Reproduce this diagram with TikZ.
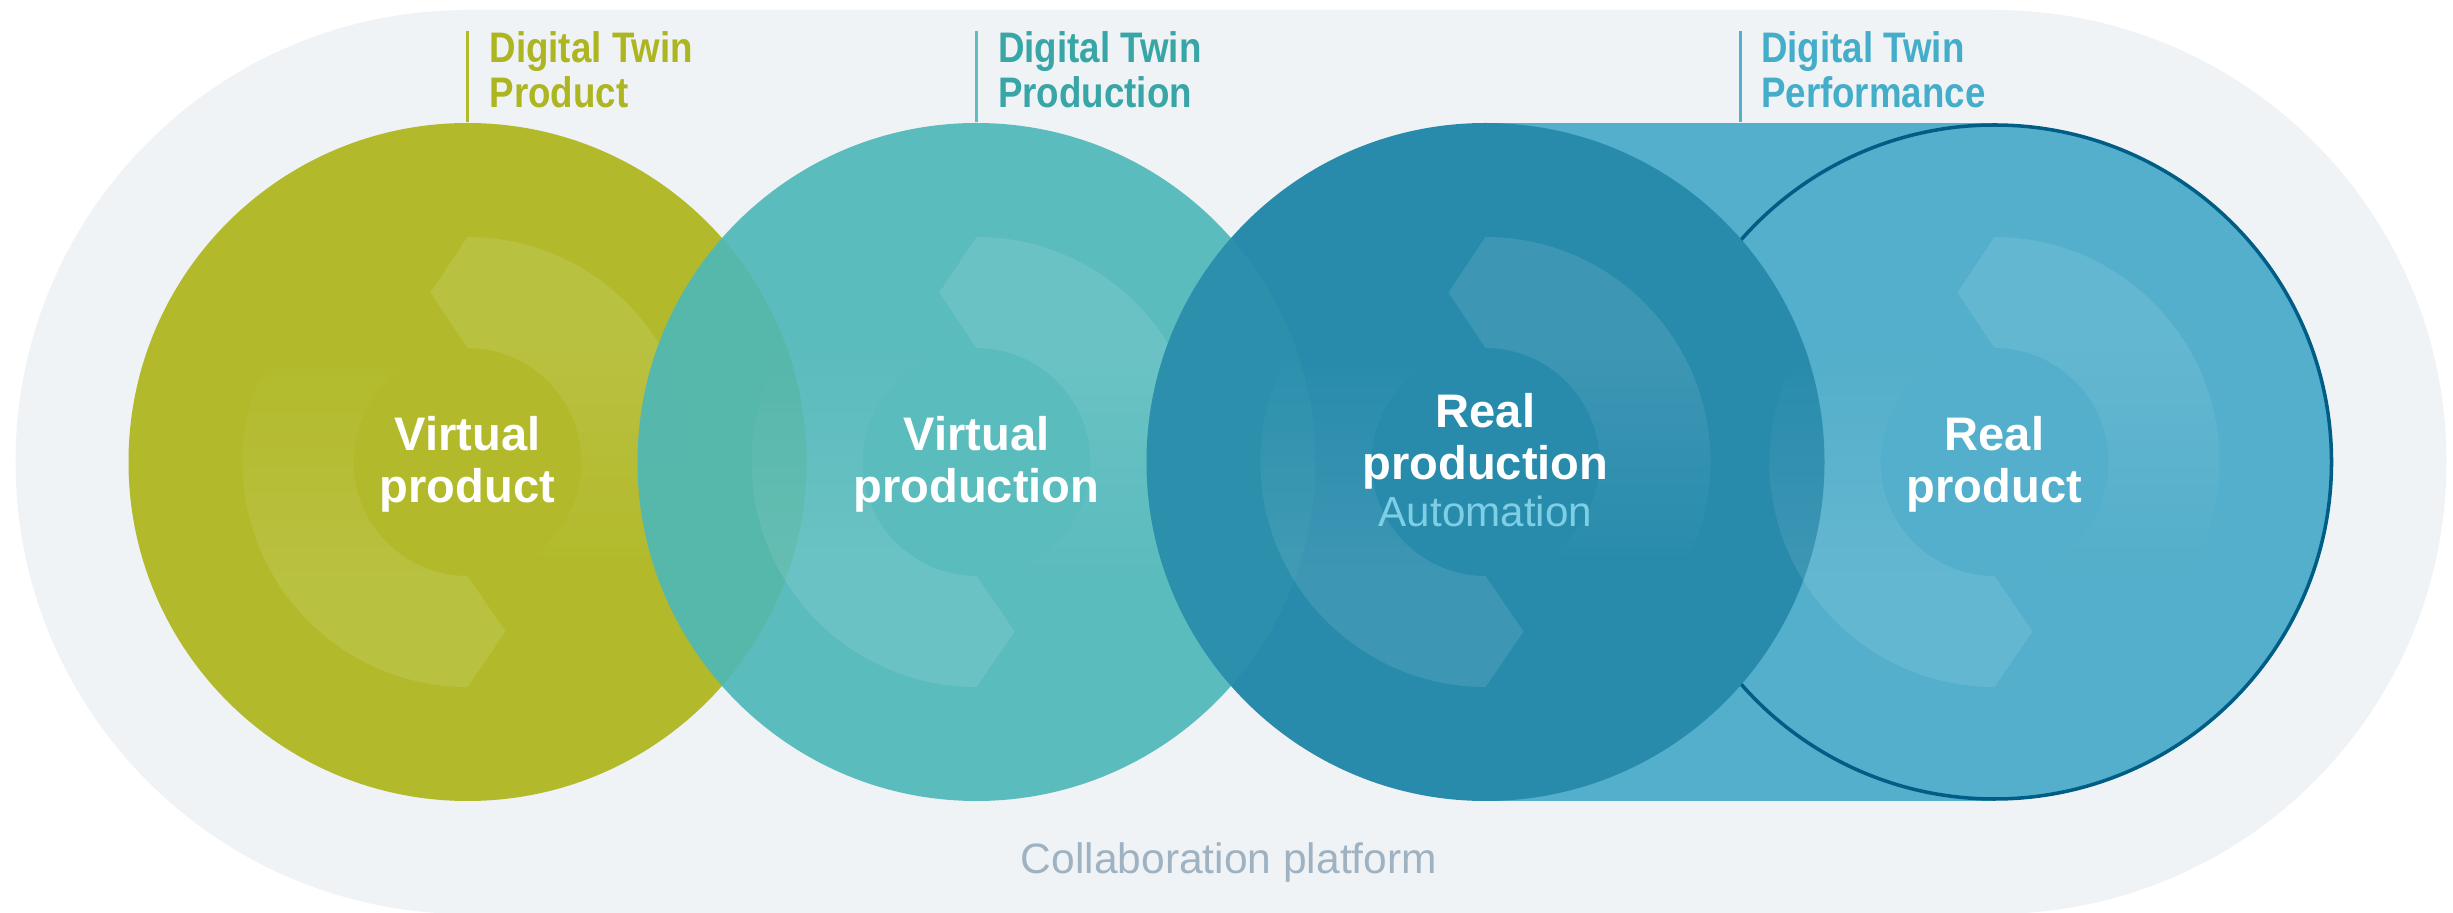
\documentclass[tikz,border=0pt]{standalone}
\usepackage{fontspec}
\setmainfont{Liberation Sans}
\usetikzlibrary{fadings}

\definecolor{platformbg}{HTML}{EFF3F6}
\definecolor{platformtx}{HTML}{9FB2C2}
\definecolor{dtgreen}{HTML}{B2BA2B}
\definecolor{dtgreentx}{HTML}{ADB520}
\definecolor{dtteal}{HTML}{4CB7B9}
\definecolor{dttealtx}{HTML}{38A5A6}
\definecolor{dtdark}{HTML}{288BAC}
\definecolor{dtblue}{HTML}{53AFCB}
\definecolor{dtbluetx}{HTML}{44ADC9}
\definecolor{dtoutline}{HTML}{005E86}
\definecolor{autotx}{HTML}{7ECFE5}

\begin{tikzfadingfrompicture}[name=fadedown]
  \fill[transparent!0] (-3,1.1) rectangle (3,3);
  \shade[top color=transparent!0,bottom color=transparent!100] (-3,-1.16) rectangle (3,1.16);
  \fill[transparent!100] (-3,-3) rectangle (3,-1.1);
\end{tikzfadingfrompicture}
\begin{tikzfadingfrompicture}[name=fadeup]
  \fill[transparent!100] (-3,1.1) rectangle (3,3);
  \shade[top color=transparent!100,bottom color=transparent!0] (-3,-1.16) rectangle (3,1.16);
  \fill[transparent!0] (-3,-3) rectangle (3,-1.1);
\end{tikzfadingfrompicture}

\begin{document}
\begin{tikzpicture}[
    every node/.style={inner sep=0pt},
    disc/.style={circle, minimum size=6.78cm},
    ringtint/.style={white, fill opacity=0.1, fit fading=false},
    lead/.style={line width=0.85pt},
    twintext/.style={anchor=base west, align=left, xscale=0.86, font=\bfseries\fontsize{12.15}{12.8}\selectfont},
    disctext/.style={anchor=base, align=center, text=white, font=\bfseries\fontsize{13.4}{15}\selectfont}]
    \useasboundingbox (0,0) rectangle (24.53,-9.13);
    % collaboration platform
    \fill[platformbg] (4.675,-0.1) -- (19.945,-0.1) arc[start angle=90, end angle=-90, radius=4.52] -- (4.675,-9.14) arc[start angle=270, end angle=90, radius=4.52] -- cycle;
    \node[anchor=base, text=platformtx, font=\fontsize{12.1}{14}\selectfont] (platform) at (12.29,-8.733) {Collaboration platform};

    % virtual product
    \node[disc, fill=dtgreen] (vproduct) at (4.675,-4.62) {};
    \fill[ringtint, path fading=fadedown, fading transform={shift={(4.675,-4.62)}}] (4.675,-4.62) ++(0,2.25) arc[start angle=90, end angle=-90, radius=2.25] -- ++(0,1.11) arc[start angle=-90, end angle=90, radius=1.14] -- ++(-0.37,0.555) -- cycle;
    \fill[ringtint, path fading=fadeup, fading transform={shift={(4.675,-4.62)}}] (4.675,-4.62) ++(0,-2.25) arc[start angle=270, end angle=90, radius=2.25] -- ++(0,-1.11) arc[start angle=90, end angle=270, radius=1.14] -- ++(0.38,-0.555) -- cycle;

    % virtual production
    \node[disc, fill=dtteal, fill opacity=0.9] (vproduction) at (9.765,-4.62) {};
    \fill[ringtint, path fading=fadedown, fading transform={shift={(9.765,-4.62)}}] (9.765,-4.62) ++(0,2.25) arc[start angle=90, end angle=-90, radius=2.25] -- ++(0,1.11) arc[start angle=-90, end angle=90, radius=1.14] -- ++(-0.37,0.555) -- cycle;
    \fill[ringtint, path fading=fadeup, fading transform={shift={(9.765,-4.62)}}] (9.765,-4.62) ++(0,-2.25) arc[start angle=270, end angle=90, radius=2.25] -- ++(0,-1.11) arc[start angle=90, end angle=270, radius=1.14] -- ++(0.38,-0.555) -- cycle;

    % performance band, real product, real production
    \node[fill=dtblue, minimum width=5.09cm, minimum height=6.78cm] (perfband) at (17.4,-4.62) {};
    \node[disc, minimum size=6.74cm, fill=dtblue, draw=dtoutline, line width=1pt] (rproduct) at (19.945,-4.62) {};
    \node[disc, fill=dtdark] (rproduction) at (14.855,-4.62) {};
    \begin{scope}
    \clip (rproduction.center) circle (3.39);
    \fill[dtteal, fill opacity=0.12] (vproduction.center) circle (3.39);
    \end{scope}
    \fill[ringtint, path fading=fadedown, fading transform={shift={(14.855,-4.62)}}] (14.855,-4.62) ++(0,2.25) arc[start angle=90, end angle=-90, radius=2.25] -- ++(0,1.11) arc[start angle=-90, end angle=90, radius=1.14] -- ++(-0.37,0.555) -- cycle;
    \fill[ringtint, path fading=fadeup, fading transform={shift={(14.855,-4.62)}}] (14.855,-4.62) ++(0,-2.25) arc[start angle=270, end angle=90, radius=2.25] -- ++(0,-1.11) arc[start angle=90, end angle=270, radius=1.14] -- ++(0.38,-0.555) -- cycle;
    \fill[ringtint, path fading=fadedown, fading transform={shift={(19.945,-4.62)}}] (19.945,-4.62) ++(0,2.25) arc[start angle=90, end angle=-90, radius=2.25] -- ++(0,1.11) arc[start angle=-90, end angle=90, radius=1.14] -- ++(-0.37,0.555) -- cycle;
    \fill[ringtint, path fading=fadeup, fading transform={shift={(19.945,-4.62)}}] (19.945,-4.62) ++(0,-2.25) arc[start angle=270, end angle=90, radius=2.25] -- ++(0,-1.11) arc[start angle=90, end angle=270, radius=1.14] -- ++(0.38,-0.555) -- cycle;

    % circle texts
    \node[disctext] (vproducttx) at (4.675,-5.03) {Virtual\\product};
    \node[disctext] (vproductiontx) at (9.765,-5.03) {Virtual\\production};
    \node[disctext] (rproductiontx) at (14.855,-4.80) {Real\\production};
    \node[anchor=base, text=autotx, font=\fontsize{12}{14}\selectfont] (automation) at (14.855,-5.267) {Automation};
    \node[disctext] (rproducttx) at (19.945,-5.03) {Real\\product};

    % digital twin headings
    \node[twintext, text=dtgreentx] (dtproduct) at (4.89,-1.073) {Digital Twin\\Product};
    \node[twintext, text=dttealtx] (dtproduction) at (9.975,-1.073) {Digital Twin\\Production};
    \node[twintext, text=dtbluetx] (dtperformance) at (17.605,-1.073) {Digital Twin\\Performance};
    \draw[lead, dtgreen] (vproduct.north) -- (vproduct.north |- dtproduct.north);
    \draw[lead, dtteal!90!white] (vproduction.north) -- (vproduction.north |- dtproduction.north);
    \draw[lead, dtblue] (perfband.north) -- (perfband.north |- dtperformance.north);
\end{tikzpicture}
\end{document}
